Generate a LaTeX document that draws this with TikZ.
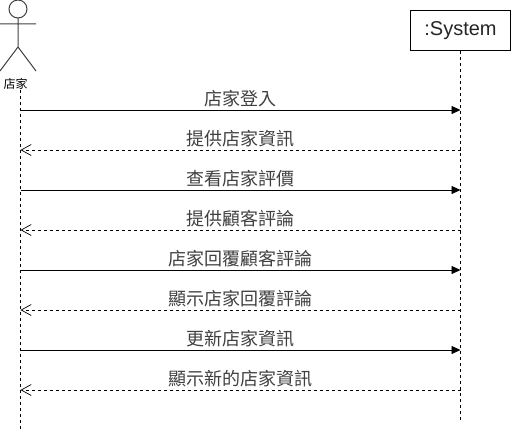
\documentclass[tikz,border=0pt]{standalone}
\usepackage{fontspec}
\setmainfont{Liberation Sans}
\newfontfamily\cjk{Noto Sans CJK TC}
\usetikzlibrary{arrows.meta}
\tikzset{
  actorline/.style={draw=black!75,line width=1pt},
  lifeline/.style={draw=black,line width=0.8pt,dash pattern=on 3pt off 3pt},
  sysbox/.style={draw=black,line width=1pt,fill=white,minimum width=100pt,minimum height=40pt,inner sep=0pt,font=\fontsize{20}{22}\selectfont,text=black!85},
  msgcall/.style={draw=black,line width=0.8pt,-{Triangle[length=9pt,width=8pt]}},
  msgreply/.style={draw=black,line width=0.8pt,dash pattern=on 3pt off 3pt,-{Straight Barb[length=10pt,width=11pt,line width=0.7pt]}},
  msglabel/.style={inner sep=0pt,font=\cjk\fontsize{18}{19}\selectfont,text=black!75,anchor=base},
  actorlabel/.style={inner sep=0pt,font=\cjk\fontsize{12}{13}\selectfont,anchor=center}
}
\begin{document}
\begin{tikzpicture}[x=1pt,y=-1pt]
\useasboundingbox (0,0) rectangle (511,433);
% actor
\draw[actorline] (18,9) circle[radius=9];
\draw[actorline] (18,18) -- (18,47) (0,24) -- (36,24) (0,71) -- (18,47) -- (36,71);
\node[actorlabel] (actor) at (15.5,84) {店家};
\node[sysbox] (sys) at (460.5,30.5) {:System};
\coordinate (aend) at (20.5,430);
\coordinate (astart) at (20.5,90);
\coordinate (send) at (460.5,420);
\draw[lifeline] (astart) -- (aend);
\draw[lifeline] (sys.south) -- (send);
% messages
\foreach \n/\yy/\st/\tx in {
 a/110/msgcall/店家登入,
 b/150/msgreply/提供店家資訊,
 c/190/msgcall/查看店家評價,
 d/230/msgreply/提供顧客評論,
 e/270/msgcall/店家回覆顧客評論,
 f/310/msgreply/顯示店家回覆評論,
 g/350/msgcall/更新店家資訊,
 h/390/msgreply/顯示新的店家資訊}{
  \coordinate (l\n) at (20.5,\yy);
  \coordinate (r\n) at (460.5,\yy);
  \node[msglabel] (t\n) at (240.5,\yy-4.5) {\tx};
}
\draw[msgcall] (la) -- (ra);
\draw[msgreply] (rb) -- (lb);
\draw[msgcall] (lc) -- (rc);
\draw[msgreply] (rd) -- (ld);
\draw[msgcall] (le) -- (re);
\draw[msgreply] (rf) -- (lf);
\draw[msgcall] (lg) -- (rg);
\draw[msgreply] (rh) -- (lh);
\end{tikzpicture}
\end{document}
